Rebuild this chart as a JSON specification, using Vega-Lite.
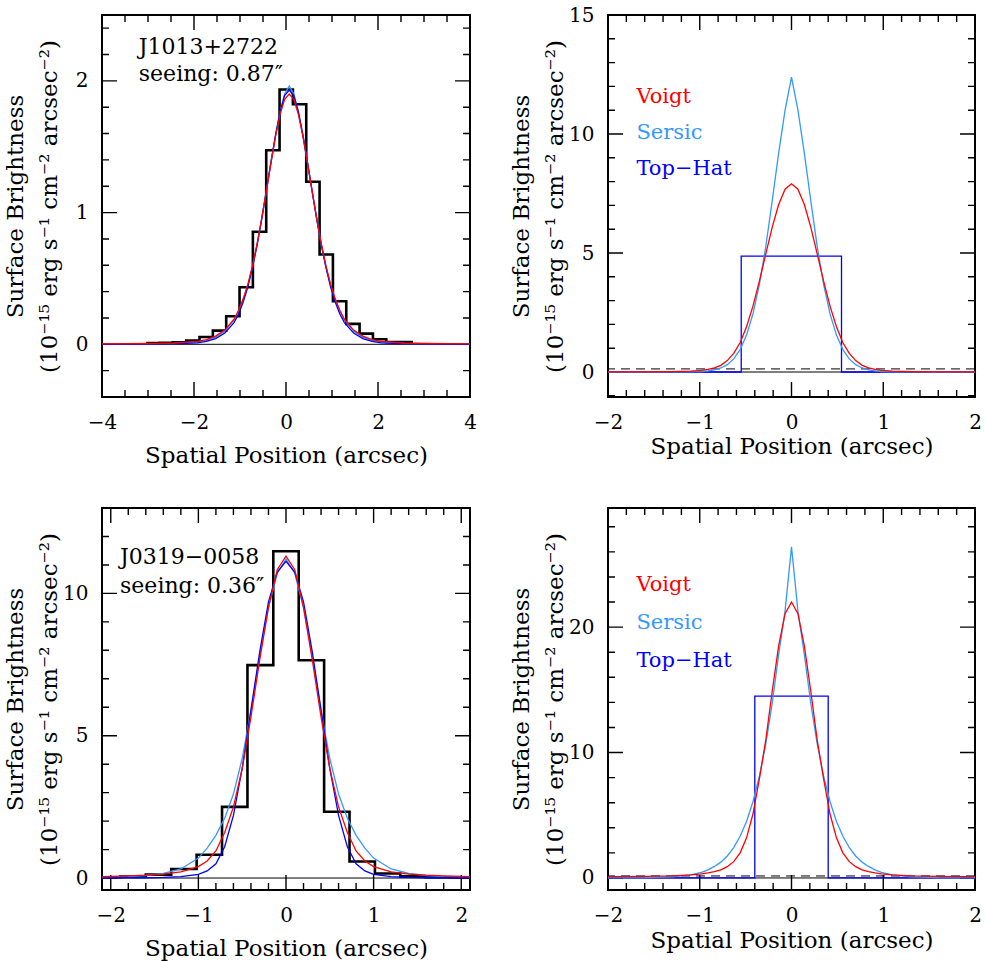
{
 "$schema": "https://vega.github.io/schema/vega-lite/v6.json",
 "background": "white",
 "padding": {"left": 3, "top": 4, "right": 0, "bottom": 0},
 "columns": 2,
 "spacing": {"row": 111, "column": 138},
 "bounds": "flush",
 "config": {
  "view": {"stroke": "black", "strokeWidth": 2},
  "font": "DejaVu Serif",
  "axis": {"domain": false, "grid": false, "ticks": false, "labelFont": "DejaVu Serif", "labelFontSize": 20, "labelColor": "black", "titleFont": "DejaVu Serif", "titleFontSize": 23, "titleFontWeight": "normal", "titleColor": "black", "labelOverlap": false, "labelFlush": false, "labelBound": false}
 },
 "datasets": {
  "zero": [{"level": 0}],
  "p2rules": [{"level": 0, "d": "solid"}, {"level": 0.13, "d": "dash"}],
  "p4rules": [{"level": 0, "d": "solid"}, {"level": 0.16, "d": "dash"}],
  "p1tx": [{"v": -3.5, "k": "m", "lo": -0.4, "hi": 2.5}, {"v": -3, "k": "m", "lo": -0.4, "hi": 2.5}, {"v": -2.5, "k": "m", "lo": -0.4, "hi": 2.5}, {"v": -2, "k": "M", "lo": -0.4, "hi": 2.5}, {"v": -1.5, "k": "m", "lo": -0.4, "hi": 2.5}, {"v": -1, "k": "m", "lo": -0.4, "hi": 2.5}, {"v": -0.5, "k": "m", "lo": -0.4, "hi": 2.5}, {"v": 0, "k": "M", "lo": -0.4, "hi": 2.5}, {"v": 0.5, "k": "m", "lo": -0.4, "hi": 2.5}, {"v": 1, "k": "m", "lo": -0.4, "hi": 2.5}, {"v": 1.5, "k": "m", "lo": -0.4, "hi": 2.5}, {"v": 2, "k": "M", "lo": -0.4, "hi": 2.5}, {"v": 2.5, "k": "m", "lo": -0.4, "hi": 2.5}, {"v": 3, "k": "m", "lo": -0.4, "hi": 2.5}, {"v": 3.5, "k": "m", "lo": -0.4, "hi": 2.5}],
  "p1ty": [{"v": -0.2, "k": "m", "lo": -4, "hi": 4}, {"v": 0, "k": "M", "lo": -4, "hi": 4}, {"v": 0.2, "k": "m", "lo": -4, "hi": 4}, {"v": 0.4, "k": "m", "lo": -4, "hi": 4}, {"v": 0.6, "k": "m", "lo": -4, "hi": 4}, {"v": 0.8, "k": "m", "lo": -4, "hi": 4}, {"v": 1, "k": "M", "lo": -4, "hi": 4}, {"v": 1.2, "k": "m", "lo": -4, "hi": 4}, {"v": 1.4, "k": "m", "lo": -4, "hi": 4}, {"v": 1.6, "k": "m", "lo": -4, "hi": 4}, {"v": 1.8, "k": "m", "lo": -4, "hi": 4}, {"v": 2, "k": "M", "lo": -4, "hi": 4}, {"v": 2.2, "k": "m", "lo": -4, "hi": 4}, {"v": 2.4, "k": "m", "lo": -4, "hi": 4}],
  "p2tx": [{"v": -1.8, "k": "m", "lo": -1.05, "hi": 15}, {"v": -1.6, "k": "m", "lo": -1.05, "hi": 15}, {"v": -1.4, "k": "m", "lo": -1.05, "hi": 15}, {"v": -1.2, "k": "m", "lo": -1.05, "hi": 15}, {"v": -1, "k": "M", "lo": -1.05, "hi": 15}, {"v": -0.8, "k": "m", "lo": -1.05, "hi": 15}, {"v": -0.6, "k": "m", "lo": -1.05, "hi": 15}, {"v": -0.4, "k": "m", "lo": -1.05, "hi": 15}, {"v": -0.2, "k": "m", "lo": -1.05, "hi": 15}, {"v": 0, "k": "M", "lo": -1.05, "hi": 15}, {"v": 0.2, "k": "m", "lo": -1.05, "hi": 15}, {"v": 0.4, "k": "m", "lo": -1.05, "hi": 15}, {"v": 0.6, "k": "m", "lo": -1.05, "hi": 15}, {"v": 0.8, "k": "m", "lo": -1.05, "hi": 15}, {"v": 1, "k": "M", "lo": -1.05, "hi": 15}, {"v": 1.2, "k": "m", "lo": -1.05, "hi": 15}, {"v": 1.4, "k": "m", "lo": -1.05, "hi": 15}, {"v": 1.6, "k": "m", "lo": -1.05, "hi": 15}, {"v": 1.8, "k": "m", "lo": -1.05, "hi": 15}],
  "p2ty": [{"v": -1, "k": "m", "lo": -2, "hi": 2}, {"v": 0, "k": "M", "lo": -2, "hi": 2}, {"v": 1, "k": "m", "lo": -2, "hi": 2}, {"v": 2, "k": "m", "lo": -2, "hi": 2}, {"v": 3, "k": "m", "lo": -2, "hi": 2}, {"v": 4, "k": "m", "lo": -2, "hi": 2}, {"v": 5, "k": "M", "lo": -2, "hi": 2}, {"v": 6, "k": "m", "lo": -2, "hi": 2}, {"v": 7, "k": "m", "lo": -2, "hi": 2}, {"v": 8, "k": "m", "lo": -2, "hi": 2}, {"v": 9, "k": "m", "lo": -2, "hi": 2}, {"v": 10, "k": "M", "lo": -2, "hi": 2}, {"v": 11, "k": "m", "lo": -2, "hi": 2}, {"v": 12, "k": "m", "lo": -2, "hi": 2}, {"v": 13, "k": "m", "lo": -2, "hi": 2}, {"v": 14, "k": "m", "lo": -2, "hi": 2}],
  "p3tx": [{"v": -2, "k": "M", "lo": -0.42, "hi": 13}, {"v": -1.8, "k": "m", "lo": -0.42, "hi": 13}, {"v": -1.6, "k": "m", "lo": -0.42, "hi": 13}, {"v": -1.4, "k": "m", "lo": -0.42, "hi": 13}, {"v": -1.2, "k": "m", "lo": -0.42, "hi": 13}, {"v": -1, "k": "M", "lo": -0.42, "hi": 13}, {"v": -0.8, "k": "m", "lo": -0.42, "hi": 13}, {"v": -0.6, "k": "m", "lo": -0.42, "hi": 13}, {"v": -0.4, "k": "m", "lo": -0.42, "hi": 13}, {"v": -0.2, "k": "m", "lo": -0.42, "hi": 13}, {"v": 0, "k": "M", "lo": -0.42, "hi": 13}, {"v": 0.2, "k": "m", "lo": -0.42, "hi": 13}, {"v": 0.4, "k": "m", "lo": -0.42, "hi": 13}, {"v": 0.6, "k": "m", "lo": -0.42, "hi": 13}, {"v": 0.8, "k": "m", "lo": -0.42, "hi": 13}, {"v": 1, "k": "M", "lo": -0.42, "hi": 13}, {"v": 1.2, "k": "m", "lo": -0.42, "hi": 13}, {"v": 1.4, "k": "m", "lo": -0.42, "hi": 13}, {"v": 1.6, "k": "m", "lo": -0.42, "hi": 13}, {"v": 1.8, "k": "m", "lo": -0.42, "hi": 13}, {"v": 2, "k": "M", "lo": -0.42, "hi": 13}],
  "p3ty": [{"v": 0, "k": "M", "lo": -2.1, "hi": 2.1}, {"v": 1, "k": "m", "lo": -2.1, "hi": 2.1}, {"v": 2, "k": "m", "lo": -2.1, "hi": 2.1}, {"v": 3, "k": "m", "lo": -2.1, "hi": 2.1}, {"v": 4, "k": "m", "lo": -2.1, "hi": 2.1}, {"v": 5, "k": "M", "lo": -2.1, "hi": 2.1}, {"v": 6, "k": "m", "lo": -2.1, "hi": 2.1}, {"v": 7, "k": "m", "lo": -2.1, "hi": 2.1}, {"v": 8, "k": "m", "lo": -2.1, "hi": 2.1}, {"v": 9, "k": "m", "lo": -2.1, "hi": 2.1}, {"v": 10, "k": "M", "lo": -2.1, "hi": 2.1}, {"v": 11, "k": "m", "lo": -2.1, "hi": 2.1}, {"v": 12, "k": "m", "lo": -2.1, "hi": 2.1}],
  "p4tx": [{"v": -1.8, "k": "m", "lo": -0.96, "hi": 29.5}, {"v": -1.6, "k": "m", "lo": -0.96, "hi": 29.5}, {"v": -1.4, "k": "m", "lo": -0.96, "hi": 29.5}, {"v": -1.2, "k": "m", "lo": -0.96, "hi": 29.5}, {"v": -1, "k": "M", "lo": -0.96, "hi": 29.5}, {"v": -0.8, "k": "m", "lo": -0.96, "hi": 29.5}, {"v": -0.6, "k": "m", "lo": -0.96, "hi": 29.5}, {"v": -0.4, "k": "m", "lo": -0.96, "hi": 29.5}, {"v": -0.2, "k": "m", "lo": -0.96, "hi": 29.5}, {"v": 0, "k": "M", "lo": -0.96, "hi": 29.5}, {"v": 0.2, "k": "m", "lo": -0.96, "hi": 29.5}, {"v": 0.4, "k": "m", "lo": -0.96, "hi": 29.5}, {"v": 0.6, "k": "m", "lo": -0.96, "hi": 29.5}, {"v": 0.8, "k": "m", "lo": -0.96, "hi": 29.5}, {"v": 1, "k": "M", "lo": -0.96, "hi": 29.5}, {"v": 1.2, "k": "m", "lo": -0.96, "hi": 29.5}, {"v": 1.4, "k": "m", "lo": -0.96, "hi": 29.5}, {"v": 1.6, "k": "m", "lo": -0.96, "hi": 29.5}, {"v": 1.8, "k": "m", "lo": -0.96, "hi": 29.5}],
  "p4ty": [{"v": 0, "k": "M", "lo": -2, "hi": 2}, {"v": 2, "k": "m", "lo": -2, "hi": 2}, {"v": 4, "k": "m", "lo": -2, "hi": 2}, {"v": 6, "k": "m", "lo": -2, "hi": 2}, {"v": 8, "k": "m", "lo": -2, "hi": 2}, {"v": 10, "k": "M", "lo": -2, "hi": 2}, {"v": 12, "k": "m", "lo": -2, "hi": 2}, {"v": 14, "k": "m", "lo": -2, "hi": 2}, {"v": 16, "k": "m", "lo": -2, "hi": 2}, {"v": 18, "k": "m", "lo": -2, "hi": 2}, {"v": 20, "k": "M", "lo": -2, "hi": 2}, {"v": 22, "k": "m", "lo": -2, "hi": 2}, {"v": 24, "k": "m", "lo": -2, "hi": 2}, {"v": 26, "k": "m", "lo": -2, "hi": 2}, {"v": 28, "k": "m", "lo": -2, "hi": 2}],
  "p1hist": [
   {"x": -3.04, "y": 0.010}, {"x": -2.75, "y": 0.012}, {"x": -2.46, "y": 0.015}, {"x": -2.17, "y": 0.028}, {"x": -1.88, "y": 0.056}, {"x": -1.59, "y": 0.104}, {"x": -1.30, "y": 0.213}, {"x": -1.01, "y": 0.433}, {"x": -0.72, "y": 0.854}, {"x": -0.43, "y": 1.473}, {"x": -0.14, "y": 1.934}, {"x": 0.15, "y": 1.823}, {"x": 0.44, "y": 1.234}, {"x": 0.73, "y": 0.682}, {"x": 1.02, "y": 0.327}, {"x": 1.31, "y": 0.155}, {"x": 1.60, "y": 0.081}, {"x": 1.89, "y": 0.038}, {"x": 2.18, "y": 0.018}, {"x": 2.47, "y": 0.018}, {"x": 2.76, "y": 0.018}
  ],
  "p1curves": [
   {"m": "S", "x": -4.0, "y": 0.001}, {"m": "S", "x": -2.93, "y": 0.003}, {"m": "S", "x": -2.43, "y": 0.006}, {"m": "S", "x": -1.93, "y": 0.017}, {"m": "S", "x": -1.73, "y": 0.030}, {"m": "S", "x": -1.53, "y": 0.055}, {"m": "S", "x": -1.33, "y": 0.100}, {"m": "S", "x": -1.13, "y": 0.185}, {"m": "S", "x": -1.03, "y": 0.252}, {"m": "S", "x": -0.93, "y": 0.338}, {"m": "S", "x": -0.83, "y": 0.448}, {"m": "S", "x": -0.73, "y": 0.585}, {"m": "S", "x": -0.63, "y": 0.752}, {"m": "S", "x": -0.53, "y": 0.945}, {"m": "S", "x": -0.43, "y": 1.155}, {"m": "S", "x": -0.33, "y": 1.372}, {"m": "S", "x": -0.23, "y": 1.580}, {"m": "S", "x": -0.13, "y": 1.762}, {"m": "S", "x": -0.03, "y": 1.900}, {"m": "S", "x": 0.07, "y": 1.960}, {"m": "S", "x": 0.17, "y": 1.900}, {"m": "S", "x": 0.27, "y": 1.762}, {"m": "S", "x": 0.37, "y": 1.580}, {"m": "S", "x": 0.47, "y": 1.372}, {"m": "S", "x": 0.57, "y": 1.155}, {"m": "S", "x": 0.67, "y": 0.945}, {"m": "S", "x": 0.77, "y": 0.752}, {"m": "S", "x": 0.87, "y": 0.585}, {"m": "S", "x": 0.97, "y": 0.448}, {"m": "S", "x": 1.07, "y": 0.338}, {"m": "S", "x": 1.17, "y": 0.252}, {"m": "S", "x": 1.27, "y": 0.185}, {"m": "S", "x": 1.47, "y": 0.100}, {"m": "S", "x": 1.67, "y": 0.055}, {"m": "S", "x": 1.87, "y": 0.030}, {"m": "S", "x": 2.07, "y": 0.017}, {"m": "S", "x": 2.57, "y": 0.006}, {"m": "S", "x": 3.07, "y": 0.003}, {"m": "S", "x": 4.0, "y": 0.001},
   {"m": "T", "x": -4.0, "y": 0.0}, {"m": "T", "x": -2.93, "y": 0.001}, {"m": "T", "x": -2.43, "y": 0.003}, {"m": "T", "x": -1.93, "y": 0.011}, {"m": "T", "x": -1.73, "y": 0.022}, {"m": "T", "x": -1.53, "y": 0.043}, {"m": "T", "x": -1.33, "y": 0.085}, {"m": "T", "x": -1.13, "y": 0.165}, {"m": "T", "x": -1.03, "y": 0.230}, {"m": "T", "x": -0.93, "y": 0.320}, {"m": "T", "x": -0.83, "y": 0.435}, {"m": "T", "x": -0.73, "y": 0.580}, {"m": "T", "x": -0.63, "y": 0.752}, {"m": "T", "x": -0.53, "y": 0.948}, {"m": "T", "x": -0.43, "y": 1.160}, {"m": "T", "x": -0.33, "y": 1.378}, {"m": "T", "x": -0.23, "y": 1.585}, {"m": "T", "x": -0.13, "y": 1.765}, {"m": "T", "x": -0.03, "y": 1.888}, {"m": "T", "x": 0.07, "y": 1.930}, {"m": "T", "x": 0.17, "y": 1.888}, {"m": "T", "x": 0.27, "y": 1.765}, {"m": "T", "x": 0.37, "y": 1.585}, {"m": "T", "x": 0.47, "y": 1.378}, {"m": "T", "x": 0.57, "y": 1.160}, {"m": "T", "x": 0.67, "y": 0.948}, {"m": "T", "x": 0.77, "y": 0.752}, {"m": "T", "x": 0.87, "y": 0.580}, {"m": "T", "x": 0.97, "y": 0.435}, {"m": "T", "x": 1.07, "y": 0.320}, {"m": "T", "x": 1.17, "y": 0.230}, {"m": "T", "x": 1.27, "y": 0.165}, {"m": "T", "x": 1.47, "y": 0.085}, {"m": "T", "x": 1.67, "y": 0.043}, {"m": "T", "x": 1.87, "y": 0.022}, {"m": "T", "x": 2.07, "y": 0.011}, {"m": "T", "x": 2.57, "y": 0.003}, {"m": "T", "x": 3.07, "y": 0.001}, {"m": "T", "x": 4.0, "y": 0.0},
   {"m": "V", "x": -4.0, "y": 0.003}, {"m": "V", "x": -2.93, "y": 0.006}, {"m": "V", "x": -2.43, "y": 0.010}, {"m": "V", "x": -1.93, "y": 0.022}, {"m": "V", "x": -1.73, "y": 0.036}, {"m": "V", "x": -1.53, "y": 0.062}, {"m": "V", "x": -1.33, "y": 0.108}, {"m": "V", "x": -1.13, "y": 0.190}, {"m": "V", "x": -1.03, "y": 0.258}, {"m": "V", "x": -0.93, "y": 0.345}, {"m": "V", "x": -0.83, "y": 0.455}, {"m": "V", "x": -0.73, "y": 0.593}, {"m": "V", "x": -0.63, "y": 0.759}, {"m": "V", "x": -0.53, "y": 0.950}, {"m": "V", "x": -0.43, "y": 1.158}, {"m": "V", "x": -0.33, "y": 1.372}, {"m": "V", "x": -0.23, "y": 1.574}, {"m": "V", "x": -0.13, "y": 1.744}, {"m": "V", "x": -0.03, "y": 1.859}, {"m": "V", "x": 0.07, "y": 1.900}, {"m": "V", "x": 0.17, "y": 1.859}, {"m": "V", "x": 0.27, "y": 1.744}, {"m": "V", "x": 0.37, "y": 1.574}, {"m": "V", "x": 0.47, "y": 1.372}, {"m": "V", "x": 0.57, "y": 1.158}, {"m": "V", "x": 0.67, "y": 0.950}, {"m": "V", "x": 0.77, "y": 0.759}, {"m": "V", "x": 0.87, "y": 0.593}, {"m": "V", "x": 0.97, "y": 0.455}, {"m": "V", "x": 1.07, "y": 0.345}, {"m": "V", "x": 1.17, "y": 0.258}, {"m": "V", "x": 1.27, "y": 0.190}, {"m": "V", "x": 1.47, "y": 0.108}, {"m": "V", "x": 1.67, "y": 0.062}, {"m": "V", "x": 1.87, "y": 0.036}, {"m": "V", "x": 2.07, "y": 0.022}, {"m": "V", "x": 2.57, "y": 0.010}, {"m": "V", "x": 3.07, "y": 0.006}, {"m": "V", "x": 4.0, "y": 0.003}
  ],
  "p1labels": [{"label": "J1013+2722", "x": -3.2, "y": 2.205}, {"label": "seeing: 0.87″", "x": -3.2, "y": 2.0}],
  "p2curves": [
   {"m": "S", "x": -2.0, "y": 0}, {"m": "S", "x": -1.6, "y": 0}, {"m": "S", "x": -1.3, "y": 0.002}, {"m": "S", "x": -1.1, "y": 0.008}, {"m": "S", "x": -0.98, "y": 0.022}, {"m": "S", "x": -0.91, "y": 0.045}, {"m": "S", "x": -0.84, "y": 0.09}, {"m": "S", "x": -0.77, "y": 0.17}, {"m": "S", "x": -0.70, "y": 0.31}, {"m": "S", "x": -0.63, "y": 0.55}, {"m": "S", "x": -0.56, "y": 0.94}, {"m": "S", "x": -0.49, "y": 1.55}, {"m": "S", "x": -0.42, "y": 2.44}, {"m": "S", "x": -0.35, "y": 3.68}, {"m": "S", "x": -0.28, "y": 5.28}, {"m": "S", "x": -0.21, "y": 7.2}, {"m": "S", "x": -0.14, "y": 9.2}, {"m": "S", "x": -0.07, "y": 11.0}, {"m": "S", "x": 0, "y": 12.39}, {"m": "S", "x": 0.07, "y": 11.0}, {"m": "S", "x": 0.14, "y": 9.2}, {"m": "S", "x": 0.21, "y": 7.2}, {"m": "S", "x": 0.28, "y": 5.28}, {"m": "S", "x": 0.35, "y": 3.68}, {"m": "S", "x": 0.42, "y": 2.44}, {"m": "S", "x": 0.49, "y": 1.55}, {"m": "S", "x": 0.56, "y": 0.94}, {"m": "S", "x": 0.63, "y": 0.55}, {"m": "S", "x": 0.70, "y": 0.31}, {"m": "S", "x": 0.77, "y": 0.17}, {"m": "S", "x": 0.84, "y": 0.09}, {"m": "S", "x": 0.91, "y": 0.045}, {"m": "S", "x": 0.98, "y": 0.022}, {"m": "S", "x": 1.1, "y": 0.008}, {"m": "S", "x": 1.3, "y": 0.002}, {"m": "S", "x": 1.6, "y": 0}, {"m": "S", "x": 2.0, "y": 0},
   {"m": "V", "x": -2.0, "y": 0.005}, {"m": "V", "x": -1.6, "y": 0.008}, {"m": "V", "x": -1.3, "y": 0.015}, {"m": "V", "x": -1.1, "y": 0.035}, {"m": "V", "x": -0.98, "y": 0.07}, {"m": "V", "x": -0.91, "y": 0.11}, {"m": "V", "x": -0.84, "y": 0.17}, {"m": "V", "x": -0.77, "y": 0.28}, {"m": "V", "x": -0.70, "y": 0.48}, {"m": "V", "x": -0.63, "y": 0.78}, {"m": "V", "x": -0.56, "y": 1.23}, {"m": "V", "x": -0.49, "y": 1.90}, {"m": "V", "x": -0.42, "y": 2.77}, {"m": "V", "x": -0.35, "y": 3.82}, {"m": "V", "x": -0.28, "y": 4.96}, {"m": "V", "x": -0.21, "y": 6.09}, {"m": "V", "x": -0.14, "y": 7.04}, {"m": "V", "x": -0.07, "y": 7.68}, {"m": "V", "x": 0, "y": 7.91}, {"m": "V", "x": 0.07, "y": 7.68}, {"m": "V", "x": 0.14, "y": 7.04}, {"m": "V", "x": 0.21, "y": 6.09}, {"m": "V", "x": 0.28, "y": 4.96}, {"m": "V", "x": 0.35, "y": 3.82}, {"m": "V", "x": 0.42, "y": 2.77}, {"m": "V", "x": 0.49, "y": 1.90}, {"m": "V", "x": 0.56, "y": 1.23}, {"m": "V", "x": 0.63, "y": 0.78}, {"m": "V", "x": 0.70, "y": 0.48}, {"m": "V", "x": 0.77, "y": 0.28}, {"m": "V", "x": 0.84, "y": 0.17}, {"m": "V", "x": 0.91, "y": 0.11}, {"m": "V", "x": 0.98, "y": 0.07}, {"m": "V", "x": 1.1, "y": 0.035}, {"m": "V", "x": 1.3, "y": 0.015}, {"m": "V", "x": 1.6, "y": 0.008}, {"m": "V", "x": 2.0, "y": 0.005}
  ],
  "p2tophat": [{"x": -2.0, "y": 0}, {"x": -0.548, "y": 4.87}, {"x": 0.545, "y": 0}, {"x": 2.0, "y": 0}],
  "p2labels": [{"label": "Voigt", "m": "V", "x": -1.69, "y": 11.32}, {"label": "Sersic", "m": "S", "x": -1.69, "y": 9.78}, {"label": "Top−Hat", "m": "T", "x": -1.69, "y": 8.28}],
  "p3hist": [
   {"x": -2.18, "y": 0.03}, {"x": -1.89, "y": 0.05}, {"x": -1.60, "y": 0.12}, {"x": -1.31, "y": 0.32}, {"x": -1.02, "y": 0.82}, {"x": -0.73, "y": 2.50}, {"x": -0.44, "y": 7.48}, {"x": -0.145, "y": 11.48}, {"x": 0.145, "y": 7.65}, {"x": 0.435, "y": 2.33}, {"x": 0.725, "y": 0.58}, {"x": 1.015, "y": 0.16}, {"x": 1.305, "y": 0.06}, {"x": 1.595, "y": 0.03}, {"x": 1.885, "y": 0.02}, {"x": 2.175, "y": 0.02}
  ],
  "p3curves": [
   {"m": "S", "x": -2.1, "y": 0.03}, {"m": "S", "x": -1.8, "y": 0.05}, {"m": "S", "x": -1.6, "y": 0.09}, {"m": "S", "x": -1.4, "y": 0.16}, {"m": "S", "x": -1.2, "y": 0.32}, {"m": "S", "x": -1.0, "y": 0.7}, {"m": "S", "x": -0.9, "y": 1.05}, {"m": "S", "x": -0.8, "y": 1.5}, {"m": "S", "x": -0.7, "y": 2.1}, {"m": "S", "x": -0.6, "y": 2.95}, {"m": "S", "x": -0.5, "y": 4.2}, {"m": "S", "x": -0.4, "y": 5.9}, {"m": "S", "x": -0.3, "y": 7.8}, {"m": "S", "x": -0.2, "y": 9.5}, {"m": "S", "x": -0.1, "y": 10.7}, {"m": "S", "x": 0, "y": 11.21}, {"m": "S", "x": 0.1, "y": 10.7}, {"m": "S", "x": 0.2, "y": 9.5}, {"m": "S", "x": 0.3, "y": 7.8}, {"m": "S", "x": 0.4, "y": 5.9}, {"m": "S", "x": 0.5, "y": 4.2}, {"m": "S", "x": 0.6, "y": 2.95}, {"m": "S", "x": 0.7, "y": 2.1}, {"m": "S", "x": 0.8, "y": 1.5}, {"m": "S", "x": 0.9, "y": 1.05}, {"m": "S", "x": 1.0, "y": 0.7}, {"m": "S", "x": 1.2, "y": 0.32}, {"m": "S", "x": 1.4, "y": 0.16}, {"m": "S", "x": 1.6, "y": 0.09}, {"m": "S", "x": 1.8, "y": 0.05}, {"m": "S", "x": 2.1, "y": 0.03},
   {"m": "T", "x": -2.1, "y": 0.0}, {"m": "T", "x": -1.8, "y": 0.005}, {"m": "T", "x": -1.6, "y": 0.01}, {"m": "T", "x": -1.4, "y": 0.02}, {"m": "T", "x": -1.2, "y": 0.05}, {"m": "T", "x": -1.0, "y": 0.13}, {"m": "T", "x": -0.9, "y": 0.25}, {"m": "T", "x": -0.8, "y": 0.5}, {"m": "T", "x": -0.7, "y": 1.1}, {"m": "T", "x": -0.6, "y": 2.2}, {"m": "T", "x": -0.5, "y": 3.85}, {"m": "T", "x": -0.4, "y": 5.9}, {"m": "T", "x": -0.3, "y": 7.95}, {"m": "T", "x": -0.2, "y": 9.7}, {"m": "T", "x": -0.1, "y": 10.75}, {"m": "T", "x": 0, "y": 11.13}, {"m": "T", "x": 0.1, "y": 10.75}, {"m": "T", "x": 0.2, "y": 9.7}, {"m": "T", "x": 0.3, "y": 7.95}, {"m": "T", "x": 0.4, "y": 5.9}, {"m": "T", "x": 0.5, "y": 3.85}, {"m": "T", "x": 0.6, "y": 2.2}, {"m": "T", "x": 0.7, "y": 1.1}, {"m": "T", "x": 0.8, "y": 0.5}, {"m": "T", "x": 0.9, "y": 0.25}, {"m": "T", "x": 1.0, "y": 0.13}, {"m": "T", "x": 1.2, "y": 0.05}, {"m": "T", "x": 1.4, "y": 0.02}, {"m": "T", "x": 1.6, "y": 0.01}, {"m": "T", "x": 1.8, "y": 0.005}, {"m": "T", "x": 2.1, "y": 0.0},
   {"m": "V", "x": -2.1, "y": 0.05}, {"m": "V", "x": -1.8, "y": 0.075}, {"m": "V", "x": -1.6, "y": 0.1}, {"m": "V", "x": -1.4, "y": 0.14}, {"m": "V", "x": -1.2, "y": 0.22}, {"m": "V", "x": -1.0, "y": 0.4}, {"m": "V", "x": -0.9, "y": 0.6}, {"m": "V", "x": -0.8, "y": 0.95}, {"m": "V", "x": -0.7, "y": 1.6}, {"m": "V", "x": -0.6, "y": 2.5}, {"m": "V", "x": -0.5, "y": 3.84}, {"m": "V", "x": -0.4, "y": 5.66}, {"m": "V", "x": -0.3, "y": 7.66}, {"m": "V", "x": -0.2, "y": 9.51}, {"m": "V", "x": -0.1, "y": 10.83}, {"m": "V", "x": 0, "y": 11.31}, {"m": "V", "x": 0.1, "y": 10.83}, {"m": "V", "x": 0.2, "y": 9.51}, {"m": "V", "x": 0.3, "y": 7.66}, {"m": "V", "x": 0.4, "y": 5.66}, {"m": "V", "x": 0.5, "y": 3.84}, {"m": "V", "x": 0.6, "y": 2.5}, {"m": "V", "x": 0.7, "y": 1.6}, {"m": "V", "x": 0.8, "y": 0.95}, {"m": "V", "x": 0.9, "y": 0.6}, {"m": "V", "x": 1.0, "y": 0.4}, {"m": "V", "x": 1.2, "y": 0.22}, {"m": "V", "x": 1.4, "y": 0.14}, {"m": "V", "x": 1.6, "y": 0.1}, {"m": "V", "x": 1.8, "y": 0.075}, {"m": "V", "x": 2.1, "y": 0.05}
  ],
  "p3labels": [{"label": "J0319−0058", "x": -1.894, "y": 11.02}, {"label": "seeing: 0.36″", "x": -1.894, "y": 10.0}],
  "p4curves": [
   {"m": "S", "x": -2.0, "y": 0.0}, {"m": "S", "x": -1.6, "y": 0.02}, {"m": "S", "x": -1.3, "y": 0.09}, {"m": "S", "x": -1.1, "y": 0.25}, {"m": "S", "x": -0.98, "y": 0.45}, {"m": "S", "x": -0.91, "y": 0.65}, {"m": "S", "x": -0.84, "y": 0.92}, {"m": "S", "x": -0.77, "y": 1.26}, {"m": "S", "x": -0.70, "y": 1.75}, {"m": "S", "x": -0.63, "y": 2.42}, {"m": "S", "x": -0.56, "y": 3.32}, {"m": "S", "x": -0.49, "y": 4.51}, {"m": "S", "x": -0.42, "y": 6.08}, {"m": "S", "x": -0.35, "y": 8.11}, {"m": "S", "x": -0.28, "y": 10.7}, {"m": "S", "x": -0.21, "y": 13.93}, {"m": "S", "x": -0.14, "y": 17.8}, {"m": "S", "x": -0.07, "y": 21.3}, {"m": "S", "x": 0, "y": 26.4}, {"m": "S", "x": 0.07, "y": 21.3}, {"m": "S", "x": 0.14, "y": 17.8}, {"m": "S", "x": 0.21, "y": 13.93}, {"m": "S", "x": 0.28, "y": 10.7}, {"m": "S", "x": 0.35, "y": 8.11}, {"m": "S", "x": 0.42, "y": 6.08}, {"m": "S", "x": 0.49, "y": 4.51}, {"m": "S", "x": 0.56, "y": 3.32}, {"m": "S", "x": 0.63, "y": 2.42}, {"m": "S", "x": 0.70, "y": 1.75}, {"m": "S", "x": 0.77, "y": 1.26}, {"m": "S", "x": 0.84, "y": 0.92}, {"m": "S", "x": 0.91, "y": 0.65}, {"m": "S", "x": 0.98, "y": 0.45}, {"m": "S", "x": 1.1, "y": 0.25}, {"m": "S", "x": 1.3, "y": 0.09}, {"m": "S", "x": 1.6, "y": 0.02}, {"m": "S", "x": 2.0, "y": 0.0},
   {"m": "V", "x": -2.0, "y": 0.1}, {"m": "V", "x": -1.6, "y": 0.12}, {"m": "V", "x": -1.3, "y": 0.17}, {"m": "V", "x": -1.1, "y": 0.24}, {"m": "V", "x": -0.98, "y": 0.32}, {"m": "V", "x": -0.91, "y": 0.4}, {"m": "V", "x": -0.84, "y": 0.5}, {"m": "V", "x": -0.77, "y": 0.64}, {"m": "V", "x": -0.70, "y": 0.9}, {"m": "V", "x": -0.63, "y": 1.3}, {"m": "V", "x": -0.56, "y": 2.0}, {"m": "V", "x": -0.49, "y": 3.2}, {"m": "V", "x": -0.42, "y": 5.1}, {"m": "V", "x": -0.35, "y": 7.9}, {"m": "V", "x": -0.28, "y": 11.01}, {"m": "V", "x": -0.21, "y": 14.91}, {"m": "V", "x": -0.14, "y": 18.5}, {"m": "V", "x": -0.07, "y": 21.07}, {"m": "V", "x": 0, "y": 22.0}, {"m": "V", "x": 0.07, "y": 21.07}, {"m": "V", "x": 0.14, "y": 18.5}, {"m": "V", "x": 0.21, "y": 14.91}, {"m": "V", "x": 0.28, "y": 11.01}, {"m": "V", "x": 0.35, "y": 7.9}, {"m": "V", "x": 0.42, "y": 5.1}, {"m": "V", "x": 0.49, "y": 3.2}, {"m": "V", "x": 0.56, "y": 2.0}, {"m": "V", "x": 0.63, "y": 1.3}, {"m": "V", "x": 0.70, "y": 0.9}, {"m": "V", "x": 0.77, "y": 0.64}, {"m": "V", "x": 0.84, "y": 0.5}, {"m": "V", "x": 0.91, "y": 0.4}, {"m": "V", "x": 0.98, "y": 0.32}, {"m": "V", "x": 1.1, "y": 0.24}, {"m": "V", "x": 1.3, "y": 0.17}, {"m": "V", "x": 1.6, "y": 0.12}, {"m": "V", "x": 2.0, "y": 0.1}
  ],
  "p4tophat": [{"x": -2.0, "y": 0}, {"x": -0.4, "y": 14.5}, {"x": 0.4, "y": 0}, {"x": 2.0, "y": 0}],
  "p4labels": [{"label": "Voigt", "m": "V", "x": -1.69, "y": 22.86}, {"label": "Sersic", "m": "S", "x": -1.69, "y": 19.84}, {"label": "Top−Hat", "m": "T", "x": -1.69, "y": 16.86}]
 },
 "concat": [
  {
   "width": 368, "height": 382,
   "resolve": {"axis": {"x": "independent", "y": "independent"}, "scale": {"strokeDash": "independent"}},
   "layer": [
    {"data": {"name": "p1tx"}, "mark": {"type": "rule", "color": "black", "strokeWidth": 1.4},
     "encoding": {"x": {"field": "v", "type": "quantitative", "scale": {"domain": [-4, 4], "nice": false, "zero": false}, "axis": null}, "y": {"field": "lo", "type": "quantitative", "scale": {"domain": [-0.4, 2.5], "nice": false, "zero": false}, "axis": null}, "y2": {"field": "hi"},
                  "strokeDash": {"field": "k", "type": "nominal", "scale": {"domain": ["M", "m"], "range": [[15, 352, 15], [7, 368, 7]]}, "legend": null}}},
    {"data": {"name": "p1ty"}, "mark": {"type": "rule", "color": "black", "strokeWidth": 1.4},
     "encoding": {"y": {"field": "v", "type": "quantitative", "scale": {"domain": [-0.4, 2.5], "nice": false, "zero": false}, "axis": null}, "x": {"field": "lo", "type": "quantitative", "scale": {"domain": [-4, 4], "nice": false, "zero": false}, "axis": null}, "x2": {"field": "hi"},
                  "strokeDash": {"field": "k", "type": "nominal", "scale": {"domain": ["M", "m"], "range": [[15, 338, 15], [7, 354, 7]]}, "legend": null}}},
    {"data": {"name": "zero"}, "mark": {"type": "rule", "color": "black", "strokeWidth": 1},
     "encoding": {"y": {"field": "level", "type": "quantitative", "scale": {"domain": [-0.4, 2.5], "nice": false, "zero": false}, "axis": null}}},
    {"data": {"name": "p1hist"},
     "mark": {"type": "line", "interpolate": "step-after", "color": "black", "strokeWidth": 2.6, "clip": true},
     "encoding": {
      "x": {"field": "x", "type": "quantitative", "scale": {"domain": [-4, 4], "nice": false, "zero": false},
            "axis": {"orient": "bottom", "values": [-4, -2, 0, 2, 4], "format": "d", "labelPadding": 15, "minExtent": 35, "maxExtent": 35, "title": "Spatial Position (arcsec)", "titlePadding": 12}},
      "y": {"field": "y", "type": "quantitative", "scale": {"domain": [-0.4, 2.5], "nice": false, "zero": false},
            "axis": {"orient": "left", "values": [0, 1, 2], "format": "d", "labelPadding": 14, "minExtent": 30, "maxExtent": 30, "title": ["Surface Brightness", "(10⁻¹⁵ erg s⁻¹ cm⁻² arcsec⁻²)"], "titlePadding": 11, "titleLineHeight": 34}}
     }},
    {"data": {"name": "p1curves"},
     "mark": {"type": "line", "strokeWidth": 1.3, "clip": true},
     "encoding": {"x": {"field": "x", "type": "quantitative", "scale": {"domain": [-4, 4], "nice": false, "zero": false}, "axis": null}, "y": {"field": "y", "type": "quantitative", "scale": {"domain": [-0.4, 2.5], "nice": false, "zero": false}, "axis": null},
                  "color": {"field": "m", "type": "nominal", "scale": {"domain": ["V", "S", "T"], "range": ["#ff0000", "#3399ff", "#0000ff"]}, "legend": null}}},
    {"data": {"name": "p1labels"},
     "mark": {"type": "text", "align": "left", "baseline": "alphabetic", "color": "black", "font": "DejaVu Serif", "fontSize": 22},
     "encoding": {"x": {"field": "x", "type": "quantitative", "scale": {"domain": [-4, 4], "nice": false, "zero": false}, "axis": null}, "y": {"field": "y", "type": "quantitative", "scale": {"domain": [-0.4, 2.5], "nice": false, "zero": false}, "axis": null}, "text": {"field": "label"}}}
   ]
  },
  {
   "width": 367, "height": 382,
   "resolve": {"axis": {"x": "independent", "y": "independent"}, "scale": {"strokeDash": "independent"}},
   "layer": [
    {"data": {"name": "p2tx"}, "mark": {"type": "rule", "color": "black", "strokeWidth": 1.4},
     "encoding": {"x": {"field": "v", "type": "quantitative", "scale": {"domain": [-2, 2], "nice": false, "zero": false}, "axis": null}, "y": {"field": "lo", "type": "quantitative", "scale": {"domain": [-1.05, 15], "nice": false, "zero": false}, "axis": null}, "y2": {"field": "hi"},
                  "strokeDash": {"field": "k", "type": "nominal", "scale": {"domain": ["M", "m"], "range": [[15, 352, 15], [7, 368, 7]]}, "legend": null}}},
    {"data": {"name": "p2ty"}, "mark": {"type": "rule", "color": "black", "strokeWidth": 1.4},
     "encoding": {"y": {"field": "v", "type": "quantitative", "scale": {"domain": [-1.05, 15], "nice": false, "zero": false}, "axis": null}, "x": {"field": "lo", "type": "quantitative", "scale": {"domain": [-2, 2], "nice": false, "zero": false}, "axis": null}, "x2": {"field": "hi"},
                  "strokeDash": {"field": "k", "type": "nominal", "scale": {"domain": ["M", "m"], "range": [[15, 337, 15], [7, 353, 7]]}, "legend": null}}},
    {"data": {"name": "p2rules"}, "mark": {"type": "rule", "color": "black", "strokeWidth": 1},
     "encoding": {"y": {"field": "level", "type": "quantitative", "scale": {"domain": [-1.05, 15], "nice": false, "zero": false}, "axis": null},
                  "strokeDash": {"field": "d", "type": "nominal", "scale": {"domain": ["solid", "dash"], "range": [[1, 0], [9, 6]]}, "legend": null}}},
    {"data": {"name": "p2tophat"},
     "mark": {"type": "line", "interpolate": "step-after", "color": "#0000ff", "strokeWidth": 1.3, "clip": true},
     "encoding": {
      "x": {"field": "x", "type": "quantitative", "scale": {"domain": [-2, 2], "nice": false, "zero": false},
            "axis": {"orient": "bottom", "values": [-2, -1, 0, 1, 2], "format": "d", "labelPadding": 15, "minExtent": 35, "maxExtent": 35, "title": "Spatial Position (arcsec)", "titlePadding": 3}},
      "y": {"field": "y", "type": "quantitative", "scale": {"domain": [-1.05, 15], "nice": false, "zero": false},
            "axis": {"orient": "left", "values": [0, 5, 10, 15], "format": "d", "labelPadding": 14, "minExtent": 30, "maxExtent": 30, "title": ["Surface Brightness", "(10⁻¹⁵ erg s⁻¹ cm⁻² arcsec⁻²)"], "titlePadding": 11, "titleLineHeight": 34}}
     }},
    {"data": {"name": "p2curves"},
     "mark": {"type": "line", "strokeWidth": 1.3, "clip": true},
     "encoding": {"x": {"field": "x", "type": "quantitative", "scale": {"domain": [-2, 2], "nice": false, "zero": false}, "axis": null}, "y": {"field": "y", "type": "quantitative", "scale": {"domain": [-1.05, 15], "nice": false, "zero": false}, "axis": null},
                  "color": {"field": "m", "type": "nominal", "scale": {"domain": ["V", "S", "T"], "range": ["#ff0000", "#3399ff", "#0000ff"]}, "legend": null}}},
    {"data": {"name": "p2labels"},
     "mark": {"type": "text", "align": "left", "baseline": "alphabetic", "font": "DejaVu Serif", "fontSize": 21},
     "encoding": {"x": {"field": "x", "type": "quantitative", "scale": {"domain": [-2, 2], "nice": false, "zero": false}, "axis": null}, "y": {"field": "y", "type": "quantitative", "scale": {"domain": [-1.05, 15], "nice": false, "zero": false}, "axis": null}, "text": {"field": "label"},
                  "color": {"field": "m", "type": "nominal", "scale": {"domain": ["V", "S", "T"], "range": ["#ff0000", "#3399ff", "#0000ff"]}, "legend": null}}}
   ]
  },
  {
   "width": 368, "height": 382,
   "resolve": {"axis": {"x": "independent", "y": "independent"}, "scale": {"strokeDash": "independent"}},
   "layer": [
    {"data": {"name": "p3tx"}, "mark": {"type": "rule", "color": "black", "strokeWidth": 1.4},
     "encoding": {"x": {"field": "v", "type": "quantitative", "scale": {"domain": [-2.1, 2.1], "nice": false, "zero": false}, "axis": null}, "y": {"field": "lo", "type": "quantitative", "scale": {"domain": [-0.42, 13], "nice": false, "zero": false}, "axis": null}, "y2": {"field": "hi"},
                  "strokeDash": {"field": "k", "type": "nominal", "scale": {"domain": ["M", "m"], "range": [[15, 352, 15], [7, 368, 7]]}, "legend": null}}},
    {"data": {"name": "p3ty"}, "mark": {"type": "rule", "color": "black", "strokeWidth": 1.4},
     "encoding": {"y": {"field": "v", "type": "quantitative", "scale": {"domain": [-0.42, 13], "nice": false, "zero": false}, "axis": null}, "x": {"field": "lo", "type": "quantitative", "scale": {"domain": [-2.1, 2.1], "nice": false, "zero": false}, "axis": null}, "x2": {"field": "hi"},
                  "strokeDash": {"field": "k", "type": "nominal", "scale": {"domain": ["M", "m"], "range": [[15, 338, 15], [7, 354, 7]]}, "legend": null}}},
    {"data": {"name": "zero"}, "mark": {"type": "rule", "color": "black", "strokeWidth": 1},
     "encoding": {"y": {"field": "level", "type": "quantitative", "scale": {"domain": [-0.42, 13], "nice": false, "zero": false}, "axis": null}}},
    {"data": {"name": "p3hist"},
     "mark": {"type": "line", "interpolate": "step-after", "color": "black", "strokeWidth": 2.6, "clip": true},
     "encoding": {
      "x": {"field": "x", "type": "quantitative", "scale": {"domain": [-2.1, 2.1], "nice": false, "zero": false},
            "axis": {"orient": "bottom", "values": [-2, -1, 0, 1, 2], "format": "d", "labelPadding": 15, "minExtent": 35, "maxExtent": 35, "title": "Spatial Position (arcsec)", "titlePadding": 12}},
      "y": {"field": "y", "type": "quantitative", "scale": {"domain": [-0.42, 13], "nice": false, "zero": false},
            "axis": {"orient": "left", "values": [0, 5, 10], "format": "d", "labelPadding": 14, "minExtent": 30, "maxExtent": 30, "title": ["Surface Brightness", "(10⁻¹⁵ erg s⁻¹ cm⁻² arcsec⁻²)"], "titlePadding": 11, "titleLineHeight": 34}}
     }},
    {"data": {"name": "p3curves"},
     "mark": {"type": "line", "strokeWidth": 1.3, "clip": true},
     "encoding": {"x": {"field": "x", "type": "quantitative", "scale": {"domain": [-2.1, 2.1], "nice": false, "zero": false}, "axis": null}, "y": {"field": "y", "type": "quantitative", "scale": {"domain": [-0.42, 13], "nice": false, "zero": false}, "axis": null},
                  "color": {"field": "m", "type": "nominal", "scale": {"domain": ["V", "S", "T"], "range": ["#ff0000", "#3399ff", "#0000ff"]}, "legend": null}}},
    {"data": {"name": "p3labels"},
     "mark": {"type": "text", "align": "left", "baseline": "alphabetic", "color": "black", "font": "DejaVu Serif", "fontSize": 22},
     "encoding": {"x": {"field": "x", "type": "quantitative", "scale": {"domain": [-2.1, 2.1], "nice": false, "zero": false}, "axis": null}, "y": {"field": "y", "type": "quantitative", "scale": {"domain": [-0.42, 13], "nice": false, "zero": false}, "axis": null}, "text": {"field": "label"}}}
   ]
  },
  {
   "width": 367, "height": 382,
   "resolve": {"axis": {"x": "independent", "y": "independent"}, "scale": {"strokeDash": "independent"}},
   "layer": [
    {"data": {"name": "p4tx"}, "mark": {"type": "rule", "color": "black", "strokeWidth": 1.4},
     "encoding": {"x": {"field": "v", "type": "quantitative", "scale": {"domain": [-2, 2], "nice": false, "zero": false}, "axis": null}, "y": {"field": "lo", "type": "quantitative", "scale": {"domain": [-0.96, 29.5], "nice": false, "zero": false}, "axis": null}, "y2": {"field": "hi"},
                  "strokeDash": {"field": "k", "type": "nominal", "scale": {"domain": ["M", "m"], "range": [[15, 352, 15], [7, 368, 7]]}, "legend": null}}},
    {"data": {"name": "p4ty"}, "mark": {"type": "rule", "color": "black", "strokeWidth": 1.4},
     "encoding": {"y": {"field": "v", "type": "quantitative", "scale": {"domain": [-0.96, 29.5], "nice": false, "zero": false}, "axis": null}, "x": {"field": "lo", "type": "quantitative", "scale": {"domain": [-2, 2], "nice": false, "zero": false}, "axis": null}, "x2": {"field": "hi"},
                  "strokeDash": {"field": "k", "type": "nominal", "scale": {"domain": ["M", "m"], "range": [[15, 337, 15], [7, 353, 7]]}, "legend": null}}},
    {"data": {"name": "p4rules"}, "mark": {"type": "rule", "color": "black", "strokeWidth": 1},
     "encoding": {"y": {"field": "level", "type": "quantitative", "scale": {"domain": [-0.96, 29.5], "nice": false, "zero": false}, "axis": null},
                  "strokeDash": {"field": "d", "type": "nominal", "scale": {"domain": ["solid", "dash"], "range": [[1, 0], [9, 6]]}, "legend": null}}},
    {"data": {"name": "p4tophat"},
     "mark": {"type": "line", "interpolate": "step-after", "color": "#0000ff", "strokeWidth": 1.3, "clip": true},
     "encoding": {
      "x": {"field": "x", "type": "quantitative", "scale": {"domain": [-2, 2], "nice": false, "zero": false},
            "axis": {"orient": "bottom", "values": [-2, -1, 0, 1, 2], "format": "d", "labelPadding": 15, "minExtent": 35, "maxExtent": 35, "title": "Spatial Position (arcsec)", "titlePadding": 4}},
      "y": {"field": "y", "type": "quantitative", "scale": {"domain": [-0.96, 29.5], "nice": false, "zero": false},
            "axis": {"orient": "left", "values": [0, 10, 20], "format": "d", "labelPadding": 14, "minExtent": 30, "maxExtent": 30, "title": ["Surface Brightness", "(10⁻¹⁵ erg s⁻¹ cm⁻² arcsec⁻²)"], "titlePadding": 11, "titleLineHeight": 34}}
     }},
    {"data": {"name": "p4curves"},
     "mark": {"type": "line", "strokeWidth": 1.3, "clip": true},
     "encoding": {"x": {"field": "x", "type": "quantitative", "scale": {"domain": [-2, 2], "nice": false, "zero": false}, "axis": null}, "y": {"field": "y", "type": "quantitative", "scale": {"domain": [-0.96, 29.5], "nice": false, "zero": false}, "axis": null},
                  "color": {"field": "m", "type": "nominal", "scale": {"domain": ["V", "S", "T"], "range": ["#ff0000", "#3399ff", "#0000ff"]}, "legend": null}}},
    {"data": {"name": "p4labels"},
     "mark": {"type": "text", "align": "left", "baseline": "alphabetic", "font": "DejaVu Serif", "fontSize": 21},
     "encoding": {"x": {"field": "x", "type": "quantitative", "scale": {"domain": [-2, 2], "nice": false, "zero": false}, "axis": null}, "y": {"field": "y", "type": "quantitative", "scale": {"domain": [-0.96, 29.5], "nice": false, "zero": false}, "axis": null}, "text": {"field": "label"},
                  "color": {"field": "m", "type": "nominal", "scale": {"domain": ["V", "S", "T"], "range": ["#ff0000", "#3399ff", "#0000ff"]}, "legend": null}}}
   ]
  }
 ]
}
